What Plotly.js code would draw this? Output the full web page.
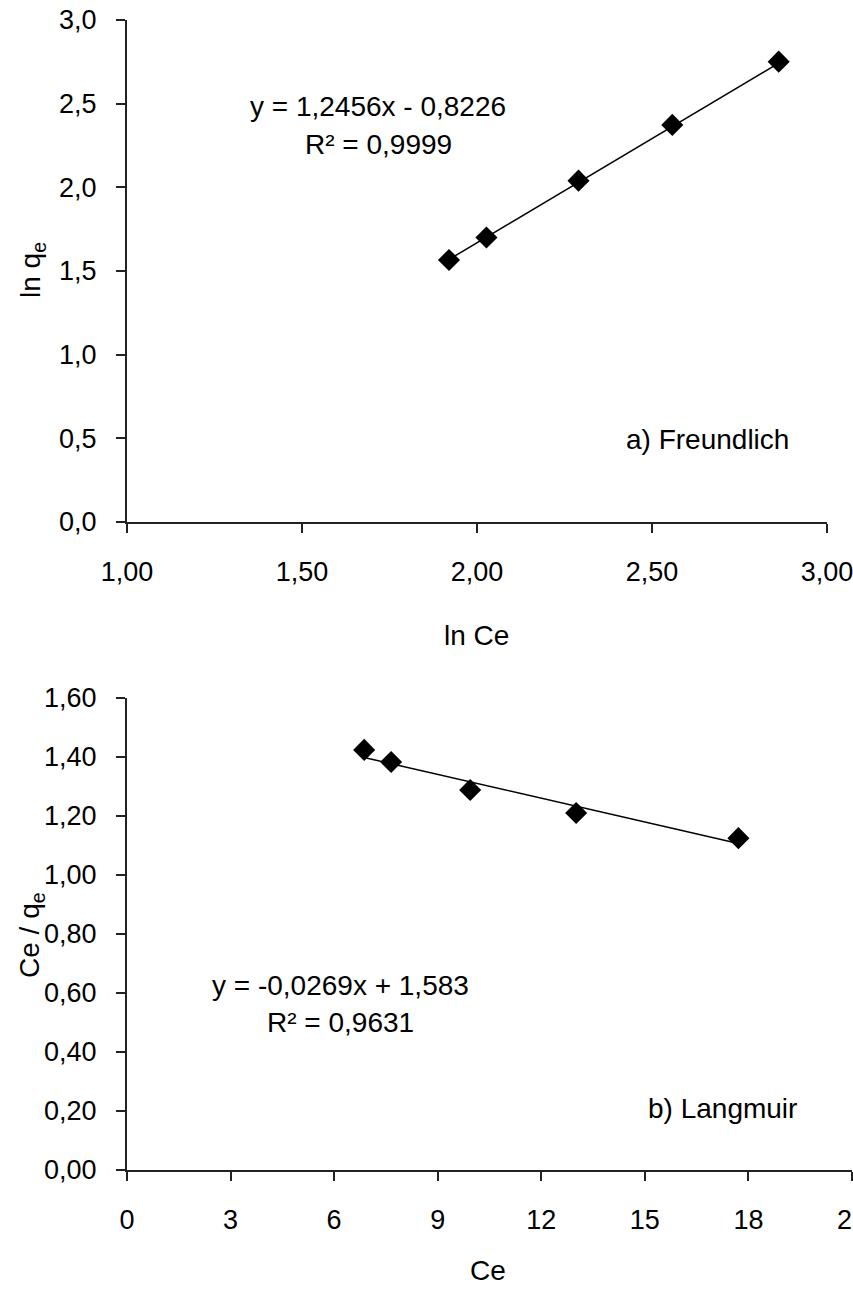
<!DOCTYPE html>
<html><head><meta charset="utf-8">
<script src="https://cdn.plot.ly/plotly-3.0.1.min.js"></script>
<style>html,body{margin:0;padding:0;overflow:hidden;background:#fff;width:853px;height:1290px}</style>
</head><body><div id="chart"></div>
<script>
// Freundlich data (ln Ce, ln qe)
const lnCe = [1.92, 2.027, 2.29, 2.558, 2.862];
const lnQe = [1.566, 1.70, 2.04, 2.373, 2.751];
const freundlichFit = {slope: 1.2456, intercept: -0.8226};
// Langmuir data (Ce, Ce/qe)
const ce = [6.87, 7.65, 9.94, 13.01, 17.71];
const ceOverQe = [1.424, 1.383, 1.288, 1.21, 1.125];
const langmuirFit = {slope: -0.0269, intercept: 1.583};

const W = 880, H = 1290;
const FONT = '"Liberation Sans Narrow", "Arial Narrow", "Liberation Sans", sans-serif';
const px = v => v / W, py = v => 1 - v / H;

function fitLine(xs, f) {
  const x0 = Math.min(...xs), x1 = Math.max(...xs);
  return {x: [x0, x1], y: [f.slope * x0 + f.intercept, f.slope * x1 + f.intercept]};
}
const fl1 = fitLine(lnCe, freundlichFit);
const fl2 = fitLine(ce, langmuirFit);

const mk = {symbol: 'diamond', size: 17, color: '#000'};
const traces = [
  {x: fl1.x, y: fl1.y, mode: 'lines', line: {color: '#000', width: 1.5}, xaxis: 'x', yaxis: 'y', hoverinfo: 'skip'},
  {x: lnCe, y: lnQe, mode: 'markers', marker: mk, xaxis: 'x', yaxis: 'y'},
  {x: fl2.x, y: fl2.y, mode: 'lines', line: {color: '#000', width: 1.5}, xaxis: 'x2', yaxis: 'y2', hoverinfo: 'skip'},
  {x: ce, y: ceOverQe, mode: 'markers', marker: mk, xaxis: 'x2', yaxis: 'y2'}
];

const tickFont = {family: FONT, size: 27, color: '#000'};
const axBase = {showline: true, linecolor: '#222', linewidth: 2, ticks: 'outside', ticklen: 9, tickwidth: 2, tickcolor: '#222',
  showgrid: false, zeroline: false, tickfont: tickFont, fixedrange: true};

const layout = {
  width: W, height: H, margin: {l: 0, r: 0, t: 0, b: 0},
  paper_bgcolor: '#fff', plot_bgcolor: '#fff', showlegend: false,
  separators: ',.',
  xaxis: Object.assign({}, axBase, {domain: [px(127), px(827)], range: [1, 3], dtick: 0.5, tick0: 1, tickformat: '.2f', anchor: 'y', ticklabelstandoff: 16}),
  yaxis: Object.assign({}, axBase, {domain: [py(522), py(20)], range: [0, 3], dtick: 0.5, tickformat: '.1f', anchor: 'x', ticklabelstandoff: 14}),
  xaxis2: Object.assign({}, axBase, {domain: [px(127), px(852)], range: [0, 21], dtick: 3, tick0: 0, tickformat: 'd', anchor: 'y2', ticklabelstandoff: 16}),
  yaxis2: Object.assign({}, axBase, {domain: [py(1170), py(698)], range: [0, 1.6], dtick: 0.2, tickformat: '.2f', anchor: 'x2', ticklabelstandoff: 14}),
  annotations: [
    {text: 'y = 1,2456x - 0,8226', x: px(378), y: py(107)},
    {text: 'R² = 0,9999', x: px(378), y: py(144)},
    {text: 'a) Freundlich', x: px(707), y: py(440)},
    {text: 'y = -0,0269x + 1,583', x: px(340), y: py(985)},
    {text: 'R² = 0,9631', x: px(340), y: py(1022)},
    {text: 'b) Langmuir', x: px(722), y: py(1108)},
    {text: 'ln Ce', x: px(477), y: py(635)},
    {text: 'Ce', x: px(488), y: py(1270)},
    {text: 'ln q<sub>e</sub>', x: px(32), y: py(270), textangle: -90},
    {text: 'Ce / q<sub>e</sub>', x: px(32), y: py(935), textangle: -90}
  ].map(a => Object.assign({xref: 'paper', yref: 'paper', showarrow: false, xanchor: 'center', yanchor: 'middle',
    font: {family: FONT, size: 28, color: '#000'}}, a))
};

Plotly.newPlot('chart', traces, layout, {staticPlot: true, displayModeBar: false});
</script></body></html>
